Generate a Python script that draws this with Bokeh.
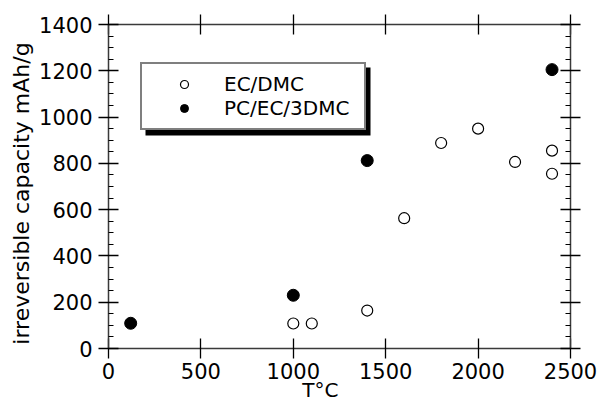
from bokeh.plotting import figure
from bokeh.models import (LinearAxis, FixedTicker, Range1d, Legend, LegendItem,
                          BoxAnnotation)
from bokeh.embed import file_html
from bokeh.resources import INLINE

# ---- data ----
ec_dmc_temp = [1000, 1100, 1400, 1600, 1800, 2000, 2200, 2400, 2400]
ec_dmc_cap = [108, 108, 164, 563, 888, 950, 806, 855, 755]

pc_ec_dmc_temp = [120, 1000, 1400, 2400]
pc_ec_dmc_cap = [109, 230, 812, 1205]

x_ticks = [0, 500, 1000, 1500, 2000, 2500]
y_ticks = [0, 200, 400, 600, 800, 1000, 1200, 1400]
y_minor = list(range(0, 1401, 50))

FONT = "DejaVu Sans"
AX_COLOR = "#3a3a3a"

p = figure(width=600, height=406,
           min_border_left=108, min_border_right=30,
           min_border_top=24, min_border_bottom=58,
           x_range=Range1d(0, 2500), y_range=Range1d(0, 1400),
           output_backend="svg", toolbar_location=None)
p.grid.visible = False
p.outline_line_color = None
p.background_fill_color = "white"


def style_axis(ax, ticks, labels=True, minor=False):
    ax.axis_line_color = AX_COLOR
    ax.axis_line_width = 1.5
    ax.major_tick_line_color = "black"
    ax.major_tick_line_width = 1.3
    ax.major_tick_in = 10
    ax.major_tick_out = 10
    if minor:
        ax.minor_tick_line_color = "black"
        ax.minor_tick_line_width = 1.1
        ax.minor_tick_in = 5
        ax.minor_tick_out = 0
    else:
        ax.minor_tick_line_color = None
    ax.major_label_text_font = FONT
    ax.major_label_text_font_size = "21px"
    ax.major_label_text_color = "black"
    if not labels:
        ax.major_label_overrides = {t: "" for t in ticks}


xb = p.xaxis[0]
xb.ticker = FixedTicker(ticks=x_ticks)
style_axis(xb, x_ticks)
xb.major_label_standoff = 4
# trailing no-break spaces shift the centred label left, as in the reference
xb.axis_label = "T°C" + "\u00a0" * 6
xb.axis_label_text_font = FONT
xb.axis_label_text_font_size = "20px"
xb.axis_label_text_font_style = "normal"
xb.axis_label_text_color = "black"
xb.axis_label_standoff = -4

yl = p.yaxis[0]
yl.ticker = FixedTicker(ticks=y_ticks, minor_ticks=y_minor)
style_axis(yl, y_ticks, minor=True)
yl.major_label_standoff = 6
yl.axis_label = "irreversible  capacity  mAh/g"
yl.axis_label_text_font = FONT
yl.axis_label_text_font_size = "22px"
yl.axis_label_text_font_style = "normal"
yl.axis_label_text_color = "black"
yl.axis_label_standoff = 2

xt = LinearAxis(ticker=FixedTicker(ticks=x_ticks))
style_axis(xt, x_ticks, labels=False)
p.add_layout(xt, "above")

yr = LinearAxis(ticker=FixedTicker(ticks=y_ticks, minor_ticks=y_minor))
style_axis(yr, y_ticks, labels=False, minor=True)
p.add_layout(yr, "right")

r1 = p.scatter(ec_dmc_temp, ec_dmc_cap, marker="circle", size=11,
               fill_color="white", line_color="black", line_width=1.2)
r2 = p.scatter(pc_ec_dmc_temp, pc_ec_dmc_cap, marker="circle", size=12,
               fill_color="black", line_color="black", line_width=1)

# legend shadow
shadow = BoxAnnotation(left=37, right=262, bottom=213, top=281,
                       left_units="screen", right_units="screen",
                       top_units="screen", bottom_units="screen",
                       fill_color="black", fill_alpha=1, line_color=None)
p.add_layout(shadow)

legend = Legend(items=[LegendItem(label="EC/DMC", renderers=[r1]),
                       LegendItem(label="PC/EC/3DMC", renderers=[r2])],
                location=(32, 218), margin=0, padding=8, spacing=0,
                glyph_width=68, glyph_height=20, label_height=20,
                label_width=132, label_standoff=6,
                border_line_color="black", border_line_width=2,
                background_fill_color="white", background_fill_alpha=1,
                label_text_font=FONT, label_text_font_size="20px",
                label_text_color="black")
p.add_layout(legend, "center")

open("out.html", "w").write(file_html(p, INLINE))
